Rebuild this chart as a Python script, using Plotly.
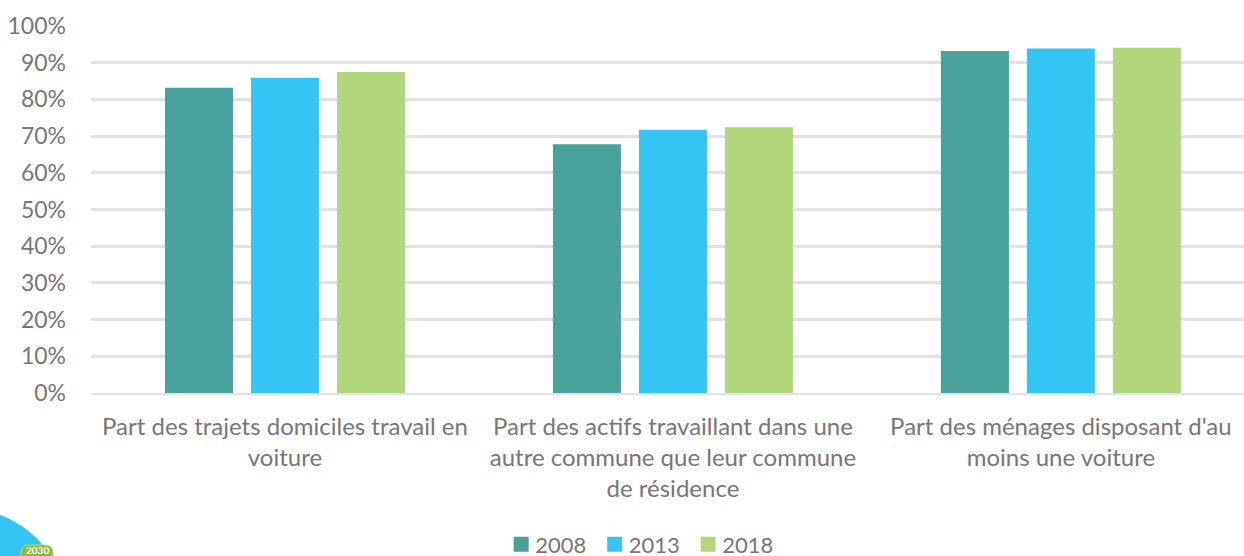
import plotly.graph_objects as go

categories = [
    "Part des trajets domiciles travail en<br>voiture",
    "Part des actifs travaillant dans une<br>autre commune que leur commune<br>de résidence",
    "Part des ménages disposant d'au<br>moins une voiture",
]
years = ["2008", "2013", "2018"]
v2008 = [83.2, 67.8, 93.2]
v2013 = [85.9, 71.7, 93.9]
v2018 = [87.5, 72.4, 94.1]
colors = ["#49A19B", "#35C5F5", "#B2D67C"]
tick_vals = list(range(0, 101, 10))
tick_text = [f"{v}%" for v in tick_vals]

TXT = "#7A7577"
FONT = "Lato, Carlito, sans-serif"
W, H = 1244, 556
TOP, BOT, LEFT = 26, 393, 91


def px(x):
    return (x - LEFT) / (W - LEFT)


def py(y):
    return (BOT - y) / (BOT - TOP)


def pill(x0, x1, y0, y1, r):
    return (
        f"M{px(x0 + r)},{py(y0)} L{px(x1 - r)},{py(y0)} Q{px(x1)},{py(y0)} {px(x1)},{py(y0 + r)} "
        f"L{px(x1)},{py(y1 - r)} Q{px(x1)},{py(y1)} {px(x1 - r)},{py(y1)} "
        f"L{px(x0 + r)},{py(y1)} Q{px(x0)},{py(y1)} {px(x0)},{py(y1 - r)} "
        f"L{px(x0)},{py(y0 + r)} Q{px(x0)},{py(y0)} {px(x0 + r)},{py(y0)} Z"
    )


fig = go.Figure()
for y, vals, c in zip(years, [v2008, v2013, v2018], colors):
    fig.add_trace(go.Bar(name=y, x=[0, 1, 2], y=vals, marker=dict(color=c, line_width=0)))

fig.update_layout(
    width=W, height=H,
    margin=dict(l=LEFT, r=0, t=TOP, b=H - BOT, autoexpand=False),
    paper_bgcolor="white", plot_bgcolor="white",
    barmode="group", bargap=0.335, bargroupgap=0.209,
    font=dict(family=FONT, color=TXT, size=22),
    xaxis=dict(range=[-0.5, 2.472], tickmode="array", tickvals=[0, 1, 2], ticktext=categories,
               showgrid=False, zeroline=False, showline=True, linecolor="#E2E2E2", linewidth=2,
               ticks="", ticklabelstandoff=11, tickfont=dict(size=24, color=TXT), fixedrange=True),
    yaxis=dict(range=[0, 100], tickmode="array", tickvals=tick_vals, ticktext=tick_text,
               gridcolor="#E2E2E2", gridwidth=2.5, zeroline=False, showline=False, ticks="",
               ticklabelstandoff=24, tickfont=dict(size=23, color=TXT), fixedrange=True),
    legend=dict(orientation="h", xanchor="center", yanchor="middle", x=0.4724, y=-0.413,
                font=dict(size=22, color=TXT), entrywidth=48.5, entrywidthmode="pixels",
                itemclick=False, itemdoubleclick=False,
                traceorder="normal", bgcolor="rgba(0,0,0,0)"),
    shapes=[
        dict(type="circle", xref="paper", yref="paper", layer="above",
             x0=px(-142), x1=px(68), y0=py(718), y1=py(508),
             fillcolor="#35C5F5", line_width=0),
        dict(type="path", xref="paper", yref="paper", layer="above",
             path=pill(21, 53, 545, 568, 8),
             fillcolor="#8DBB3A", line=dict(color="#B7D77A", width=1)),
    ],
    annotations=[
        dict(text="<b>2030</b>", xref="paper", yref="paper", showarrow=False,
             x=px(37), y=py(550), xanchor="center", yanchor="middle",
             font=dict(size=10, color="white", family=FONT)),
    ],
)
post = """
document.body.style.margin='0';
document.documentElement.style.overflow='hidden';
document.querySelectorAll('.legendpoints').forEach(function(g){
  g.setAttribute('transform','translate(6,0)');
  g.querySelectorAll('path').forEach(function(p){p.setAttribute('d','M7.5,7.5H-7.5V-7.5H7.5Z');});
});
"""
fig.write_html("out.html", config={"displayModeBar": False}, post_script=post)
